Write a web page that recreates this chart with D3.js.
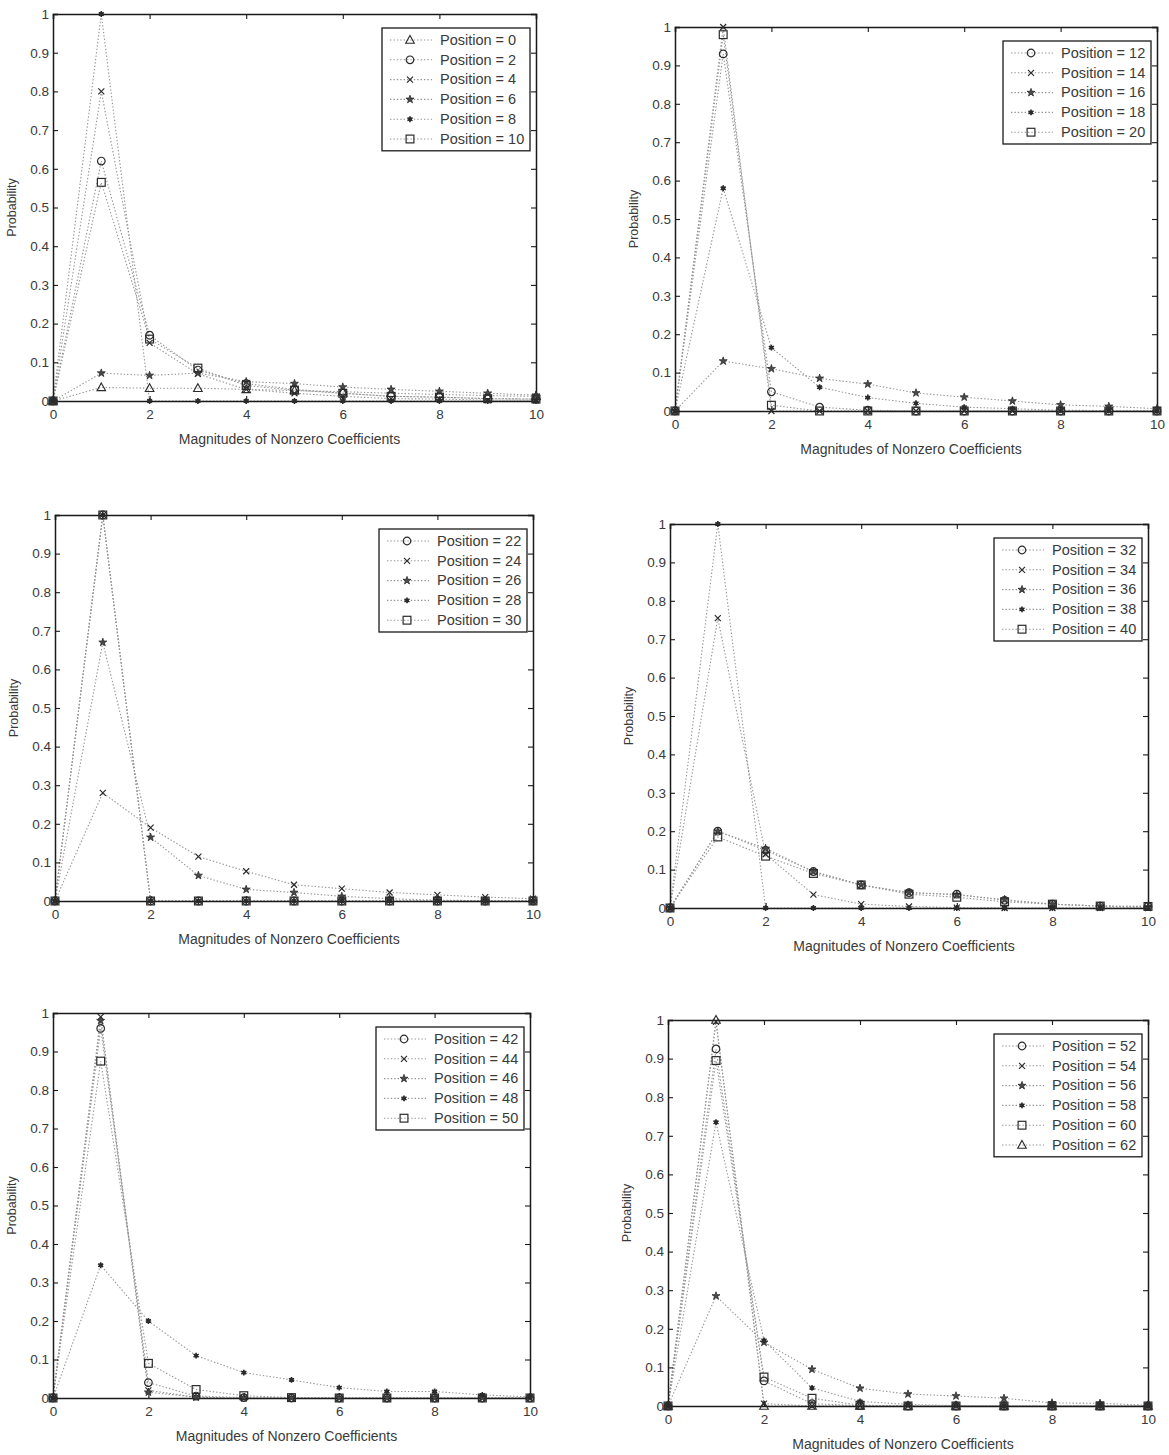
<!DOCTYPE html>
<html>
<head>
<meta charset="utf-8">
<script src="https://cdn.jsdelivr.net/npm/d3@7"></script>
<style>
  body { margin: 0; background: #fff; }
  svg { display: block; font-family: "Liberation Sans", Arial, sans-serif; }
</style>
</head>
<body>
<div id="chart"></div>
<script>
// x values shared by every series
const magnitudes = [0, 1, 2, 3, 4, 5, 6, 7, 8, 9, 10];
const xTicks = [0, 2, 4, 6, 8, 10];
const yTicks = [0, 0.1, 0.2, 0.3, 0.4, 0.5, 0.6, 0.7, 0.8, 0.9, 1];
const yTickLabels = ['0', '0.1', '0.2', '0.3', '0.4', '0.5', '0.6', '0.7', '0.8', '0.9', '1'];
const xTitle = 'Magnitudes of Nonzero Coefficients';
const yTitle = 'Probability';

// probabilities, one array per position
const pos0  = [0, 0.035, 0.033, 0.033, 0.03, 0.027, 0.024, 0.02, 0.017, 0.014, 0.012];
const pos2  = [0, 0.62, 0.17, 0.08, 0.045, 0.03, 0.02, 0.012, 0.01, 0.006, 0.005];
const pos4  = [0, 0.80, 0.15, 0.07, 0.03, 0.02, 0.012, 0.006, 0.005, 0.002, 0.002];
const pos6  = [0, 0.072, 0.066, 0.072, 0.05, 0.045, 0.036, 0.03, 0.025, 0.02, 0.015];
const pos8  = [0, 1.0, 0, 0, 0, 0, 0, 0, 0, 0, 0];
const pos10 = [0, 0.565, 0.16, 0.085, 0.04, 0.028, 0.02, 0.012, 0.01, 0.006, 0.005];

const pos12 = [0, 0.93, 0.05, 0.01, 0.002, 0, 0, 0, 0, 0, 0];
const pos14 = [0, 1.0, 0, 0, 0, 0, 0, 0, 0, 0, 0];
const pos16 = [0, 0.13, 0.11, 0.085, 0.07, 0.047, 0.036, 0.026, 0.016, 0.012, 0.006];
const pos18 = [0, 0.58, 0.165, 0.062, 0.035, 0.02, 0.01, 0.006, 0.002, 0.001, 0];
const pos20 = [0, 0.98, 0.015, 0, 0, 0, 0, 0, 0, 0, 0];

const pos22 = [0, 1.0, 0, 0, 0, 0, 0, 0, 0, 0, 0];
const pos24 = [0, 0.28, 0.19, 0.115, 0.077, 0.042, 0.032, 0.022, 0.016, 0.01, 0.006];
const pos26 = [0, 0.67, 0.165, 0.066, 0.03, 0.022, 0.012, 0.006, 0.002, 0.001, 0];
const pos28 = [0, 1.0, 0, 0, 0, 0, 0, 0, 0, 0, 0];
const pos30 = [0, 1.0, 0, 0, 0, 0, 0, 0, 0, 0, 0];

const pos32 = [0, 0.20, 0.15, 0.095, 0.06, 0.04, 0.036, 0.02, 0.01, 0.005, 0.004];
const pos34 = [0, 0.755, 0.14, 0.035, 0.01, 0.004, 0.001, 0, 0, 0, 0];
const pos36 = [0, 0.20, 0.155, 0.095, 0.06, 0.04, 0.034, 0.022, 0.01, 0.005, 0.002];
const pos38 = [0, 1.0, 0, 0, 0, 0, 0, 0, 0, 0, 0];
const pos40 = [0, 0.185, 0.135, 0.09, 0.06, 0.036, 0.028, 0.016, 0.01, 0.005, 0.004];

const pos42 = [0, 0.96, 0.04, 0.005, 0.001, 0, 0, 0, 0, 0, 0];
const pos44 = [0, 0.99, 0.02, 0.002, 0, 0, 0, 0, 0, 0, 0];
const pos46 = [0, 0.98, 0.015, 0.002, 0, 0, 0, 0, 0, 0, 0];
const pos48 = [0, 0.345, 0.20, 0.11, 0.066, 0.047, 0.027, 0.017, 0.017, 0.008, 0.003];
const pos50 = [0, 0.875, 0.09, 0.022, 0.006, 0.001, 0, 0, 0, 0, 0];

const pos52 = [0, 0.925, 0.065, 0.006, 0.001, 0, 0, 0, 0, 0, 0];
const pos54 = [0, 0.995, 0.006, 0, 0, 0, 0, 0, 0, 0, 0];
const pos56 = [0, 0.285, 0.165, 0.095, 0.046, 0.031, 0.026, 0.02, 0.008, 0.007, 0.002];
const pos58 = [0, 0.735, 0.17, 0.047, 0.012, 0.004, 0.001, 0, 0, 0, 0];
const pos60 = [0, 0.895, 0.075, 0.02, 0.002, 0, 0, 0, 0, 0, 0];
const pos62 = [0, 1.0, 0, 0, 0, 0, 0, 0, 0, 0, 0];

const panelPositions = [
  [0, 2, 4, 6, 8, 10],
  [12, 14, 16, 18, 20],
  [22, 24, 26, 28, 30],
  [32, 34, 36, 38, 40],
  [42, 44, 46, 48, 50],
  [52, 54, 56, 58, 60, 62]
];
const panelValues = [
  [pos0, pos2, pos4, pos6, pos8, pos10],
  [pos12, pos14, pos16, pos18, pos20],
  [pos22, pos24, pos26, pos28, pos30],
  [pos32, pos34, pos36, pos38, pos40],
  [pos42, pos44, pos46, pos48, pos50],
  [pos52, pos54, pos56, pos58, pos60, pos62]
];

// marker styles in plot order
const panelMarkers = [
  ['triangle', 'circle', 'cross', 'star', 'asterisk', 'square'],
  ['circle', 'cross', 'star', 'asterisk', 'square'],
  ['circle', 'cross', 'star', 'asterisk', 'square'],
  ['circle', 'cross', 'star', 'asterisk', 'square'],
  ['circle', 'cross', 'star', 'asterisk', 'square'],
  ['circle', 'cross', 'star', 'asterisk', 'square', 'triangle']
];

// axes boxes on the page
const boxes = [
  { left: 53,  top: 14,   right: 536,  bottom: 401 },
  { left: 675, top: 27,   right: 1157, bottom: 411 },
  { left: 55,  top: 515,  right: 533,  bottom: 901 },
  { left: 670, top: 524,  right: 1148, bottom: 908 },
  { left: 53,  top: 1013, right: 530,  bottom: 1398 },
  { left: 668, top: 1020, right: 1148, bottom: 1406 }
];

const lineColor = '#959595';
const markColor = '#2b2b2b';
const axisColor = '#1a1a1a';
const textColor = '#3a3a3a';

const svg = d3.select('#chart').append('svg')
  .attr('width', 1169)
  .attr('height', 1455);

function drawMarker(g, type, cx, cy) {
  const m = g.append('g').attr('transform', `translate(${cx},${cy})`);
  if (type === 'circle') {
    m.append('circle').attr('r', 3.8)
      .attr('fill', 'none').attr('stroke', markColor).attr('stroke-width', 1.2);
  } else if (type === 'square') {
    m.append('rect').attr('x', -3.9).attr('y', -3.9).attr('width', 7.8).attr('height', 7.8)
      .attr('fill', 'none').attr('stroke', markColor).attr('stroke-width', 1.2);
  } else if (type === 'triangle') {
    m.append('path').attr('d', 'M0,-4.5L4.3,3.2L-4.3,3.2Z')
      .attr('fill', 'none').attr('stroke', markColor).attr('stroke-width', 1.1);
  } else if (type === 'cross') {
    m.append('path').attr('d', 'M-3,-3L3,3M-3,3L3,-3')
      .attr('stroke', markColor).attr('stroke-width', 1.2);
  } else if (type === 'star') {
    m.append('path').attr('d', d3.symbol(d3.symbolStar, 20)())
      .attr('fill', '#4a4a4a').attr('stroke', markColor).attr('stroke-width', 0.8);
  } else if (type === 'asterisk') {
    m.append('path').attr('d', d3.symbol(d3.symbolAsterisk, 24)())
      .attr('fill', 'none').attr('stroke', markColor).attr('stroke-width', 1.6);
    m.append('circle').attr('r', 2).attr('fill', markColor);
  }
}

function drawPanel(box, positions, valuesList, markers) {
  const x = d3.scaleLinear().domain([0, 10]).range([box.left, box.right]);
  const y = d3.scaleLinear().domain([0, 1]).range([box.bottom, box.top]);
  const g = svg.append('g');

  // series lines
  const line = d3.line().x((d, i) => x(magnitudes[i])).y(d => y(d));
  valuesList.forEach(vals => {
    g.append('path')
      .attr('d', line(vals))
      .attr('fill', 'none')
      .attr('stroke', lineColor)
      .attr('stroke-width', 1.1)
      .attr('stroke-dasharray', '1.4,2');
  });

  // axes: ticks inward on all four sides
  const tickLen = 5;
  g.append('g').attr('transform', `translate(0,${box.bottom})`)
    .call(d3.axisBottom(x).tickValues(xTicks).tickSize(-tickLen).tickPadding(8).tickFormat(d3.format('d')));
  g.append('g').attr('transform', `translate(0,${box.top})`)
    .call(d3.axisTop(x).tickValues(xTicks).tickSize(-tickLen).tickFormat(''));
  g.append('g').attr('transform', `translate(${box.left},0)`)
    .call(d3.axisLeft(y).tickValues(yTicks).tickSize(-tickLen).tickPadding(4)
      .tickFormat((d, i) => yTickLabels[i]));
  g.append('g').attr('transform', `translate(${box.right},0)`)
    .call(d3.axisRight(y).tickValues(yTicks).tickSize(-tickLen).tickFormat(''));

  g.selectAll('.domain').attr('stroke', axisColor).attr('stroke-width', 1.5);
  g.selectAll('.tick line').attr('stroke', axisColor).attr('stroke-width', 1.1);
  g.selectAll('.tick text').attr('fill', textColor).style('font-size', '13.5px');

  // markers on top
  valuesList.forEach((vals, si) => {
    vals.forEach((v, i) => drawMarker(g, markers[si], x(magnitudes[i]), y(v)));
  });

  // titles
  g.append('text')
    .attr('x', (box.left + box.right) / 2 - 5)
    .attr('y', box.bottom + 43)
    .attr('text-anchor', 'middle')
    .attr('fill', textColor)
    .style('font-size', '14px')
    .text(xTitle);
  g.append('text')
    .attr('transform', `translate(${box.left - 37},${(box.top + box.bottom) / 2}) rotate(-90)`)
    .attr('text-anchor', 'middle')
    .attr('fill', textColor)
    .style('font-size', '12.5px')
    .text(yTitle);

  // legend
  const rowH = 19.8;
  const lw = 148;
  const lh = positions.length * rowH + 4;
  const lx = box.right - 6 - lw;
  const ly = box.top + 14;
  const legend = g.append('g').attr('transform', `translate(${lx},${ly})`);
  legend.append('rect')
    .attr('width', lw).attr('height', lh)
    .attr('fill', '#fff').attr('stroke', axisColor).attr('stroke-width', 1.3);
  positions.forEach((p, i) => {
    const cy = 12 + i * rowH;
    legend.append('line')
      .attr('x1', 8).attr('x2', 50).attr('y1', cy).attr('y2', cy)
      .attr('stroke', lineColor).attr('stroke-width', 1.1).attr('stroke-dasharray', '1.4,2');
    drawMarker(legend, markers[i], 28, cy);
    legend.append('text')
      .attr('x', 58).attr('y', cy + 1)
      .attr('dominant-baseline', 'middle')
      .attr('fill', textColor)
      .style('font-size', '14.5px')
      .text(`Position = ${p}`);
  });
}

boxes.forEach((box, k) => drawPanel(box, panelPositions[k], panelValues[k], panelMarkers[k]));
</script>
</body>
</html>
